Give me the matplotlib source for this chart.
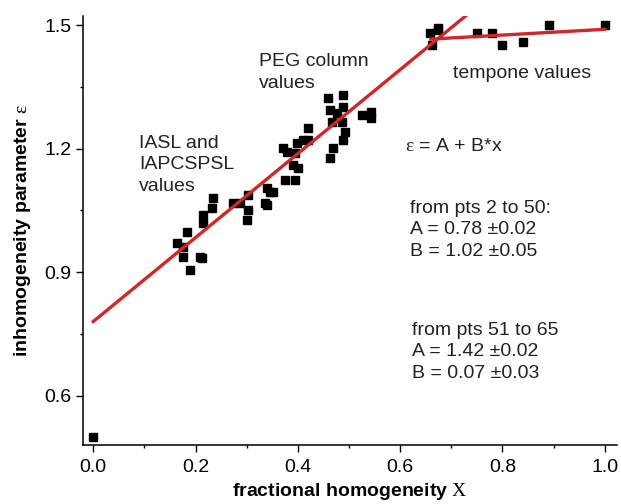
import numpy as np
import matplotlib.pyplot as plt
from matplotlib.ticker import MultipleLocator

plt.rcParams['font.family'] = ['Liberation Sans', 'DejaVu Sans']
plt.rcParams['mathtext.fontset'] = 'custom'
plt.rcParams['mathtext.rm'] = 'Liberation Serif'

# fractional homogeneity X and inhomogeneity parameter eps
x_pts = [0.000,
         0.164, 0.176, 0.176, 0.184, 0.190, 0.209, 0.213, 0.215, 0.215, 0.233,
         0.235, 0.274, 0.287, 0.301, 0.303, 0.303, 0.336, 0.340, 0.340, 0.346,
         0.352, 0.371, 0.375, 0.379, 0.391, 0.395, 0.395, 0.399, 0.401, 0.411,
         0.420, 0.420, 0.459, 0.463, 0.463, 0.467, 0.469, 0.477, 0.487, 0.489,
         0.489, 0.489, 0.493, 0.526, 0.542, 0.542,
         0.659, 0.663, 0.673, 0.674, 0.751, 0.780, 0.800, 0.841, 0.890, 1.000]
y_pts = [0.499,
         0.970, 0.961, 0.936, 0.997, 0.905, 0.936, 0.934, 1.038, 1.019, 1.055,
         1.080, 1.068, 1.068, 1.026, 1.087, 1.051, 1.068, 1.104, 1.063, 1.094,
         1.094, 1.201, 1.123, 1.191, 1.160, 1.189, 1.123, 1.213, 1.153, 1.221,
         1.221, 1.250, 1.323, 1.293, 1.177, 1.264, 1.201, 1.286, 1.264, 1.330,
         1.301, 1.221, 1.240, 1.281, 1.289, 1.274,
         1.481, 1.451, 1.493, 1.488, 1.481, 1.481, 1.451, 1.459, 1.500, 1.500]

# linear fits eps = A + B*x
fit1_A, fit1_B, fit1_range = 0.78, 1.02, (0.0, 0.75)
fit2_A, fit2_B, fit2_range = 1.42, 0.07, (0.66, 1.0)

fig = plt.figure(figsize=(6.21, 5.04), dpi=100)
ax = fig.add_axes([0.134, 0.117, 0.86, 0.851])

ax.plot(x_pts, y_pts, 's', color='black', markersize=6.2, zorder=2)

red = '#d02828'
xs = np.array(fit1_range)
ax.plot(xs, fit1_A + fit1_B * xs, color=red, linewidth=2.4, zorder=3)
xs = np.array(fit2_range)
ax.plot(xs, fit2_A + fit2_B * xs, color=red, linewidth=2.4, zorder=3)

ax.set_xlim(-0.0196, 1.0244)
ax.set_ylim(0.48, 1.522)
ax.xaxis.set_major_locator(MultipleLocator(0.2))
ax.xaxis.set_minor_locator(MultipleLocator(0.1))
ax.yaxis.set_major_locator(MultipleLocator(0.3))
ax.yaxis.set_minor_locator(MultipleLocator(0.15))
ax.xaxis.set_major_formatter(plt.FuncFormatter(lambda v, p: f"{v:.1f}"))
ax.yaxis.set_major_formatter(plt.FuncFormatter(lambda v, p: f"{v:.1f}"))

for s in ['top', 'right']:
    ax.spines[s].set_visible(False)
for s in ['left', 'bottom']:
    ax.spines[s].set_linewidth(1.1)
ax.tick_params(which='major', direction='out', length=5, width=1, labelsize=14, colors='black')
ax.tick_params(which='minor', direction='out', length=2.5, width=1)
ax.tick_params(axis='x', pad=5)

ax.set_xlabel(r"fractional homogeneity $\mathrm{X}$", fontsize=14, fontweight='bold', labelpad=4)
ax.set_ylabel(r"inhomogeneity parameter $\mathrm{\varepsilon}$", fontsize=14, fontweight='bold', labelpad=8)

txt = dict(fontsize=14, color='#222222', va='top', ha='left', linespacing=1.35)
ax.text(0.3245, 1.432, "PEG column\nvalues", **txt)
ax.text(0.090, 1.234, "IASL and\nIAPCSPSL\nvalues", **txt)
ax.text(0.704, 1.404, "tempone values", **txt)
ax.text(0.610, 1.226, r"$\mathrm{\varepsilon}$ = A + B*x", **txt)
ax.text(0.620, 1.076, "from pts 2 to 50:\nA = 0.78 \u00b10.02\nB = 1.02 \u00b10.05", **txt)
ax.text(0.624, 0.780, "from pts 51 to 65\nA = 1.42 \u00b10.02\nB = 0.07 \u00b10.03", **txt)

fig.savefig("out.png", dpi=100)
